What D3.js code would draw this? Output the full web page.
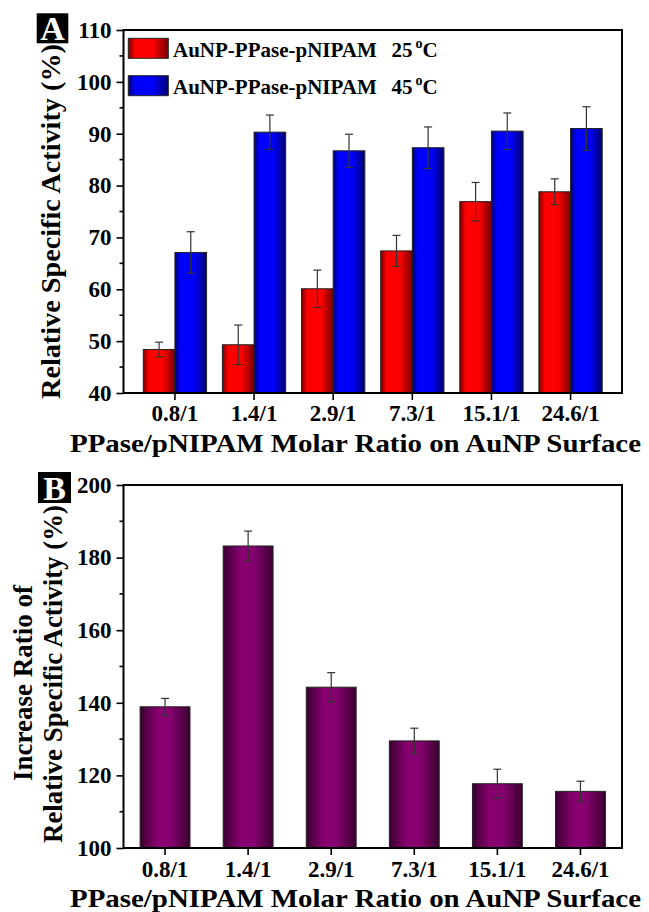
<!DOCTYPE html>
<html><head><meta charset="utf-8">
<script src="https://cdn.jsdelivr.net/npm/d3@7"></script>
<style>
body{margin:0;background:#fff}
svg text{font-family:"Liberation Serif","Times New Roman",serif;font-weight:bold;fill:#000}
</style></head><body>
<svg id="chart" width="649" height="912"></svg>
<script>
const categories = ["0.8/1","1.4/1","2.9/1","7.3/1","15.1/1","24.6/1"];
const series = ["25","45"];
const activity25 = [48.4, 49.3, 60.1, 67.4, 76.9, 78.8];
const error25    = [1.4, 3.8, 3.6, 3.0, 3.7, 2.5];
const activity45 = [67.1, 90.3, 86.7, 87.3, 90.5, 91.0];
const error45    = [4.0, 3.3, 3.2, 4.0, 3.5, 4.2];
const ratio      = [138.9, 183.2, 144.3, 129.5, 117.7, 115.6];
const ratioError = [2.3, 4.1, 4.0, 3.5, 4.0, 2.8];
const ticksA = [40,50,60,70,80,90,100,110];
const ticksB = [100,120,140,160,180,200];
const xTitle = "PPase/pNIPAM Molar Ratio on AuNP Surface";
const yTitleA = "Relative Specific Activity (%)";
const yTitleB1 = "Increase Ratio of";
const legendLabel = "AuNP-PPase-pNIPAM";

const svg = d3.select("#chart");
const defs = svg.append("defs");
function grad(id, stops){
  const g = defs.append("linearGradient").attr("id",id).attr("x1",0).attr("x2",1).attr("y1",0).attr("y2",0);
  stops.forEach(([o,c])=>g.append("stop").attr("offset",o).attr("stop-color",c));
}
grad("gRed",[[0,"#7a0000"],[0.18,"#ff0000"],[0.6,"#ff0000"],[1,"#7a0000"]]);
grad("gBlue",[[0,"#000070"],[0.18,"#0000ff"],[0.6,"#0000ff"],[1,"#000070"]]);
grad("gPurple",[[0,"#3a0030"],[0.35,"#880070"],[0.6,"#880070"],[1,"#3a0030"]]);

const L = 123.5, R = 622;

function frame(y, top, bottom, majors, minorStep){
  const g = svg.append("g");
  const [d0,d1] = y.domain();
  for(let v=d0; v<=d1+1e-9; v+=minorStep){
    if(!majors.includes(v)) g.append("line").attr("x1",L-4).attr("x2",L).attr("y1",y(v)).attr("y2",y(v)).attr("stroke","#000").attr("stroke-width",1.6);
  }
  const ax = d3.axisLeft(y).tickValues(majors).tickSize(7).tickPadding(5);
  const a = g.append("g").attr("transform",`translate(${L},0)`).call(ax);
  a.select(".domain").remove();
  a.selectAll(".tick line").attr("stroke","#000").attr("stroke-width",1.6);
  a.selectAll(".tick text").style("font-size","23px").attr("fill","#000");
  g.append("rect").attr("x",L).attr("y",top).attr("width",R-L).attr("height",bottom-top)
    .attr("fill","none").attr("stroke","#000").attr("stroke-width",2);
  return g;
}

function xAxis(x, bottom, labelY, titleY){
  const ax = d3.axisBottom(x).tickSize(7).tickPadding(8);
  const a = svg.append("g").attr("transform",`translate(0,${bottom})`).call(ax);
  a.select(".domain").remove();
  a.selectAll(".tick line").attr("stroke","#000").attr("stroke-width",1.6);
  a.selectAll(".tick text").style("font-size","23px").attr("fill","#000").attr("dy",null).attr("y",null)
    .attr("transform",`translate(0,${labelY-bottom})`);
  svg.append("text").attr("x",355.5).attr("y",titleY).attr("text-anchor","middle")
    .style("font-size","25px").attr("textLength",571).attr("lengthAdjust","spacingAndGlyphs").text(xTitle);
}

function errBars(g, data){
  const e = g.selectAll(".eb").data(data).join("g");
  e.append("line").attr("x1",d=>d.cx).attr("x2",d=>d.cx).attr("y1",d=>d.y1).attr("y2",d=>d.y2).attr("stroke","#333").attr("stroke-width",1.2);
  e.append("line").attr("x1",d=>d.cx-4).attr("x2",d=>d.cx+4).attr("y1",d=>d.y1).attr("y2",d=>d.y1).attr("stroke","#333").attr("stroke-width",1.2);
  e.append("line").attr("x1",d=>d.cx-4).attr("x2",d=>d.cx+4).attr("y1",d=>d.y2).attr("y2",d=>d.y2).attr("stroke","#333").attr("stroke-width",1.2);
}

function panelLabel(letter, x, y, w, h){
  svg.append("rect").attr("x",x).attr("y",y).attr("width",w).attr("height",h).attr("fill","#000");
  svg.append("text").attr("x",x+w/2).attr("y",y+h-3).attr("text-anchor","middle")
    .style("font-size","34px").style("fill","#fff").text(letter);
}

// ---------- Panel A ----------
const topA = 30, botA = 393;
const yA = d3.scaleLinear().domain([40,110]).range([botA, topA]);
const xA = d3.scaleBand().domain(categories).range([L,R]).paddingInner(0.2).paddingOuter(0.25);
const xS = d3.scaleBand().domain(series).range([0, xA.bandwidth()]);
const gA = svg.append("g");
const dataA = [];
categories.forEach((c,i)=>{
  dataA.push({c, s:"25", v:activity25[i], e:error25[i]});
  dataA.push({c, s:"45", v:activity45[i], e:error45[i]});
});
gA.selectAll("rect.bar").data(dataA).join("rect").attr("class","bar")
  .attr("x",d=>xA(d.c)+xS(d.s)).attr("width",xS.bandwidth())
  .attr("y",d=>yA(d.v)).attr("height",d=>botA-yA(d.v))
  .attr("fill",d=>d.s==="25"?"url(#gRed)":"url(#gBlue)")
  .attr("stroke","#222").attr("stroke-width",1);
errBars(gA, dataA.map(d=>({cx:xA(d.c)+xS(d.s)+xS.bandwidth()/2, y1:yA(d.v+d.e), y2:yA(d.v-d.e)})));
frame(yA, topA, botA, ticksA, 5);
xAxis(xA, botA, 421, 452);

const legend = [{s:"25", fill:"url(#gRed)", y:38.3},{s:"45", fill:"url(#gBlue)", y:75.7}];
legend.forEach(l=>{
  svg.append("rect").attr("x",128.3).attr("y",l.y).attr("width",40).attr("height",20).attr("fill",l.fill).attr("stroke","#222").attr("stroke-width",1);
  const t = svg.append("text").attr("x",173).attr("y",l.y+18.4).style("font-size","21px");
  t.append("tspan").text(legendLabel);
  t.append("tspan").attr("x",391.5).text(l.s);
  t.append("tspan").attr("dx",3).attr("dy",-9).style("font-size","14px").text("o");
  t.append("tspan").attr("dy",9).text("C");
});

svg.append("text").attr("transform",`translate(60,221.5) rotate(-90)`).attr("text-anchor","middle")
  .style("font-size","27px").attr("textLength",355).attr("lengthAdjust","spacingAndGlyphs").text(yTitleA);
panelLabel("A", 36.7, 13.3, 31.6, 30);

// ---------- Panel B ----------
const topB = 485, botB = 848;
const yB = d3.scaleLinear().domain([100,200]).range([botB, topB]);
const xB = d3.scaleBand().domain(categories).range([L,R]).paddingInner(0.4).paddingOuter(0.2);
const gB = svg.append("g");
const dataB = categories.map((c,i)=>({c, v:ratio[i], e:ratioError[i]}));
gB.selectAll("rect.bar").data(dataB).join("rect").attr("class","bar")
  .attr("x",d=>xB(d.c)).attr("width",xB.bandwidth())
  .attr("y",d=>yB(d.v)).attr("height",d=>botB-yB(d.v))
  .attr("fill","url(#gPurple)").attr("stroke","#222").attr("stroke-width",1);
errBars(gB, dataB.map(d=>({cx:xB(d.c)+xB.bandwidth()/2, y1:yB(d.v+d.e), y2:yB(d.v-d.e)})));
frame(yB, topB, botB, ticksB, 10);
xAxis(xB, botB, 877, 907);

svg.append("text").attr("transform",`translate(32,683) rotate(-90)`).attr("text-anchor","middle")
  .style("font-size","27px").text(yTitleB1);
svg.append("text").attr("transform",`translate(61.5,674) rotate(-90)`).attr("text-anchor","middle")
  .style("font-size","27px").attr("textLength",338).attr("lengthAdjust","spacingAndGlyphs").text(yTitleA);
panelLabel("B", 38, 472, 33, 31);
</script>
</body></html>
